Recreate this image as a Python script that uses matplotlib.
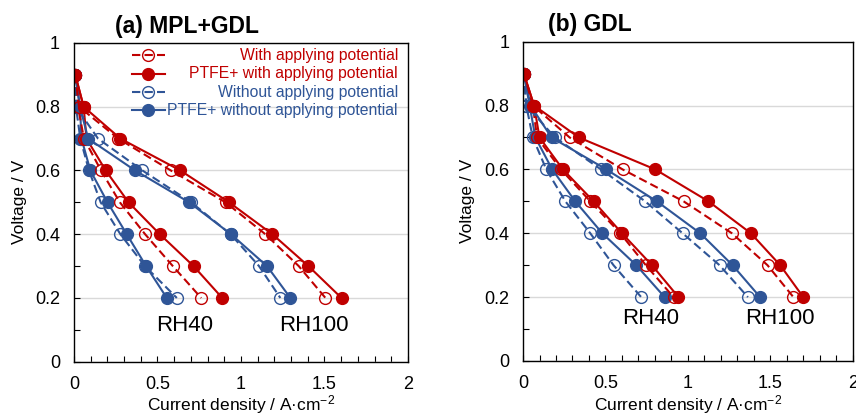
import matplotlib
matplotlib.use("Agg")
import matplotlib.pyplot as plt
from matplotlib.ticker import MultipleLocator
from matplotlib.lines import Line2D

plt.rcParams['font.family'] = ['Liberation Sans', 'DejaVu Sans']
plt.rcParams['mathtext.fontset'] = 'custom'
plt.rcParams['mathtext.rm'] = 'Liberation Sans'
plt.rcParams['mathtext.it'] = 'Liberation Sans'

RED = '#C00000'
BLUE = '#2F5597'

voltage = [0.9, 0.8, 0.7, 0.6, 0.5, 0.4, 0.3, 0.2]

# (a) MPL+GDL, current density at each voltage
a_rh40_with = [0.008, 0.024, 0.060, 0.162, 0.275, 0.426, 0.592, 0.762]
a_rh40_ptfe_with = [0.008, 0.058, 0.075, 0.190, 0.327, 0.514, 0.716, 0.888]
a_rh40_without = [0.008, 0.012, 0.038, 0.090, 0.160, 0.278, 0.425, 0.616]
a_rh40_ptfe_without = [0.008, 0.036, 0.045, 0.098, 0.201, 0.316, 0.432, 0.556]
a_rh100_with = [0.008, 0.030, 0.265, 0.580, 0.908, 1.146, 1.346, 1.506]
a_rh100_ptfe_with = [0.008, 0.058, 0.278, 0.637, 0.929, 1.188, 1.404, 1.602]
a_rh100_without = [0.008, 0.012, 0.144, 0.410, 0.702, 0.938, 1.108, 1.236]
a_rh100_ptfe_without = [0.008, 0.036, 0.085, 0.366, 0.690, 0.940, 1.156, 1.296]

# (b) GDL
b_rh40_with = [0.005, 0.060, 0.085, 0.230, 0.408, 0.590, 0.745, 0.913]
b_rh40_ptfe_with = [0.005, 0.067, 0.100, 0.242, 0.428, 0.600, 0.782, 0.943]
b_rh40_without = [0.005, 0.020, 0.059, 0.141, 0.257, 0.408, 0.549, 0.717]
b_rh40_ptfe_without = [0.005, 0.040, 0.075, 0.177, 0.317, 0.481, 0.687, 0.859]
b_rh100_with = [0.005, 0.060, 0.283, 0.604, 0.974, 1.267, 1.483, 1.640]
b_rh100_ptfe_with = [0.005, 0.067, 0.339, 0.802, 1.125, 1.382, 1.560, 1.700]
b_rh100_without = [0.005, 0.020, 0.194, 0.473, 0.741, 0.968, 1.192, 1.364]
b_rh100_ptfe_without = [0.005, 0.046, 0.173, 0.505, 0.812, 1.075, 1.271, 1.438]

labels = ["With applying potential", "PTFE+ with applying potential",
          "Without applying potential", "PTFE+ without applying potential"]
styles = [(RED, '--', 'none'), (RED, '-', RED), (BLUE, '--', 'none'), (BLUE, '-', BLUE)]


def draw_series(ax, x, st):
    c, ls, fc = st
    ax.plot(x, voltage, color=c, ls=ls, lw=1.5, marker='o', ms=8.5,
            mfc=fc, mec=c, mew=1.0, dashes=(4, 2) if ls == '--' else (None, None))


def style_axes(ax):
    ax.set_xlim(0, 2)
    ax.set_ylim(0, 1)
    ax.xaxis.set_minor_locator(MultipleLocator(0.1))
    ax.yaxis.set_minor_locator(MultipleLocator(0.1))
    ax.set_xticks([0, 0.5, 1, 1.5, 2])
    ax.set_xticklabels(['0', '0.5', '1', '1.5', '2'])
    ax.set_yticks([0, 0.2, 0.4, 0.6, 0.8, 1])
    ax.set_yticklabels(['0', '0.2', '0.4', '0.6', '0.8', '1'])
    ax.tick_params(which='both', direction='in', length=4, width=0.8, labelsize=13)
    ax.tick_params(axis='x', pad=10)
    ax.tick_params(axis='y', pad=10)
    ax.grid(axis='y', which='major', color='#D9D9D9', lw=1)
    ax.set_axisbelow(True)
    for s in ax.spines.values():
        s.set_linewidth(1.0)
    ax.set_xlabel(r'Current density / A·cm$^{-2}$', fontsize=12.5)
    ax.set_ylabel('Voltage / V', fontsize=12.5)


fig = plt.figure(figsize=(8.56, 4.17), dpi=100)
ax1 = fig.add_axes([0.0864, 0.1326, 0.3902, 0.7643])
ax2 = fig.add_axes([0.6110, 0.1343, 0.3852, 0.7657])

a_sets = [(a_rh40_without, a_rh40_ptfe_without, a_rh40_with, a_rh40_ptfe_with),
          (a_rh100_without, a_rh100_ptfe_without, a_rh100_with, a_rh100_ptfe_with)]
b_sets = [(b_rh40_without, b_rh40_ptfe_without, b_rh40_with, b_rh40_ptfe_with),
          (b_rh100_without, b_rh100_ptfe_without, b_rh100_with, b_rh100_ptfe_with)]

for ax, sets in [(ax1, a_sets), (ax2, b_sets)]:
    for wo, pwo, w, pw in sets:
        draw_series(ax, wo, styles[2])
        draw_series(ax, pwo, styles[3])
        draw_series(ax, w, styles[0])
        draw_series(ax, pw, styles[1])
    style_axes(ax)

ax1.yaxis.set_label_coords(-0.14, 0.5)
ax2.yaxis.set_label_coords(-0.145, 0.5)
ax1.xaxis.set_label_coords(0.5, -0.1)
ax2.xaxis.set_label_coords(0.5, -0.1)

ax1.text(0.123, 1.03, '(a) MPL+GDL', transform=ax1.transAxes, fontsize=16.5,
         fontweight='bold', va='baseline')
ax2.text(0.076, 1.033, '(b) GDL', transform=ax2.transAxes, fontsize=16.5,
         fontweight='bold', va='baseline')

ax1.text(0.662, 0.115, 'RH40', fontsize=16, ha='center', va='center')
ax1.text(1.436, 0.115, 'RH100', fontsize=16, ha='center', va='center')
ax2.text(0.776, 0.133, 'RH40', fontsize=16, ha='center', va='center')
ax2.text(1.558, 0.133, 'RH100', fontsize=16, ha='center', va='center')

# legend, handles on the left and text right-aligned
leg_y = [0.961, 0.904, 0.846, 0.789]
for (c, ls, fc), lab, y in zip(styles, labels, leg_y):
    ln = Line2D([0.174, 0.223, 0.272], [y, y, y], transform=ax1.transAxes, color=c,
                ls=ls, lw=1.5, marker='o', ms=8.5, mfc=fc, mec=c, mew=1.0,
                markevery=[1], dashes=(4, 2) if ls == '--' else (None, None))
    ax1.add_line(ln)
    ax1.text(0.970, y, lab, transform=ax1.transAxes, color=c, fontsize=11.3,
             ha='right', va='center')

fig.savefig('out.png', dpi=100)
